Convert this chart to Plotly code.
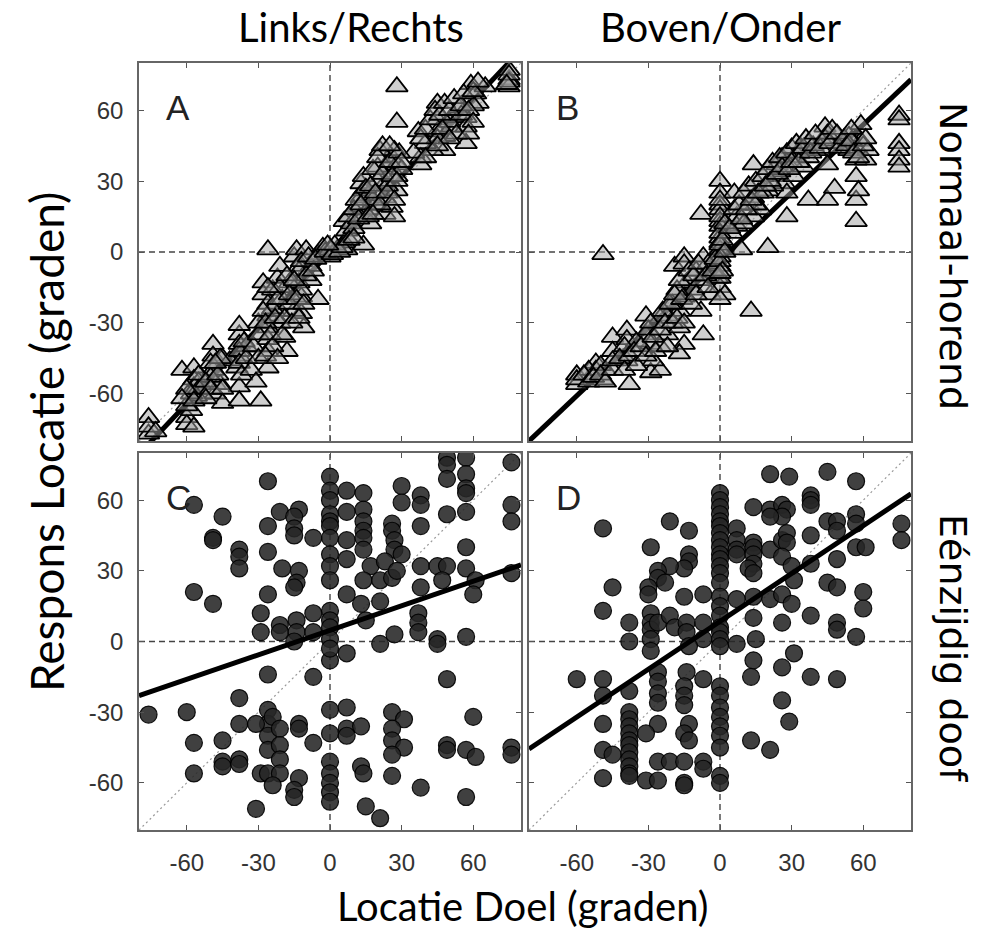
import plotly.graph_objects as go

# ---------------------------------------------------------------------------
# Data (degrees): target location vs. response location
# ---------------------------------------------------------------------------

# Panel A - normal hearing, left/right (azimuth)
a_x = [-76, -76, -60, -60, -57, -58, -62, -57, -57, -57, -54, -49, -49, -49, -48, -48, -45,
       -38, -38, -29, -38, -38, -38, -39, -46, -56,
       -26, -28, -28, -26, -26, -26, -26, -26, -26, -24, -22, -21, -21, -21, -19, -18, -15, -14,
       -13, -13, -12, -12, -11, -15, -17, -8, -8, -5, -10,
       -5, -3, 0, 0, 3, 7, 6, 14,
       6, 7, 9, 12, 13, 14, 14, 17, 16, 13, 19, 23, 23, 23, 24, 26, 27, 28, 28, 28, 26, 27, 21, 20,
       28, 28, 37, 38, 38, 45, 45, 45, 48, 48, 51, 51, 57, 57, 57, 59, 61, 62, 75, 75, 75, 54, 43, 40,
       -13, -12, -24, -20, -17, -10, 10, 16, 20, 24, 18, -30, -35, -45, -55, -50, -42,
       30, 35, 45, 50, 55, 60, 65,
       -60, -58, -55, -55, -52, -50, -50, -47, -46, -60, -62, -57, -52, -48, -45, -76, -73,
       -38, -38, -37, -36, -35, -33, -32, -30, -30, -31, -38,
       -28, -27, -25, -24, -23, -22, -21, -20, -19, -18, -17, -16, -15, -14, -13, -12, -11, -9, -7,
       -6, -27, -26, -22,
       -2, 1, 2, 4, 5, -1, 8, 10,
       8, 10, 11, 12, 13, 14, 15, 16, 17, 18, 19, 20, 21, 22, 22, 24, 25, 26, 27, 28, 29, 30, 18, 25,
       38, 40, 42, 44, 46, 47, 48, 50, 52, 53, 55, 56, 58, 60, 60, 62, 58, 50, 45, 40,
       75, 75, 74]
a_y = [-70, -77, -70, -73, -74, -67, -50, -49, -54, -57, -60, -39, -44, -50, -56, -60, -64,
       -57, -63, -63, -35, -39, -44, -49, -56, -61,
       1, -13, -18, -22, -27, -32, -37, -42, -49, -16, -11, -6, -25, -30, -36, -42, -2, 1,
       -6, -13, -19, -26, -32, -25, -13, -6, -12, -20, 1,
       -1, 2, 1, -2, 1, 1, 4, 3,
       13, 9, 12, 19, 23, 26, 15, 12, 18, 29, 20, 16, 23, 29, 36, 40, 43, 37, 32, 26, 19, 15, 43, 36,
       70, 55, 51, 40, 37, 63, 56, 51, 49, 43, 53, 57, 57, 53, 46, 71, 67, 63, 73, 70, 77, 61, 43, 46,
       -8, -16, -24, -20, -22, -10, 10, 24, 30, 28, 22, -30, -40, -45, -55, -53, -46,
       35, 42, 48, 55, 58, 62, 70,
       -65, -60, -58, -52, -55, -47, -58, -52, -45, -58, -62, -63, -62, -47, -58, -74, -76,
       -42, -47, -52, -38, -45, -50, -40, -45, -35, -55, -31,
       -25, -30, -35, -40, -28, -20, -15, -35, -28, -10, -18, -30, -12, -20, -28, -4, -22, -2, -8,
       -3, -44, -15, -45,
       0, -1, 3, 0, 2, 3, 5, 6,
       15, 18, 22, 14, 20, 32, 27, 15, 28, 35, 25, 40, 20, 33, 45, 25, 38, 32, 22, 30, 42, 38, 16, 45,
       48, 52, 56, 60, 58, 52, 63, 60, 65, 50, 62, 67, 60, 68, 55, 72, 50, 48, 45, 40,
       72, 75, 71]

# Panel B - normal hearing, up/down (elevation)
b_x = [-60, -60, -49, -48, -52, -52, -45, -39, -39, -39, -38, -29, -25, -31, -31, -29, -28, -25,
       -22, -22, -17, -17, -15, -14, -11, -8, -7, -15, -17, -19, -15, -15, -7, -8, -4, -1, 0, 2, 0,
       -49, 13, 20,
       0, 0, 0, 0, 0, 0, 0, 0, 0, 0, 0, 0,
       -8, 6, 7, 7, 9, 12, 14, 14, 14, 17, 20, 23, 24, 26, 27, 28, 28, 31, 31, 34, 35, 37, 37, 37,
       43, 44, 45, 45, 45, 48, 51, 54, 57, 57, 57, 57, 57, 59, 59, 58, 61, 62, 75, 75, 75, 75, 75, 75,
       54, 40,
       -35, -30, -25, -20, -18, -10, -5, 5, 10, 15, 18, 22, 25, 28, 30, 33, -45, -55, -50, -40,
       -60, -57, -55, -53, -50, -48, -45, -45, -42, -40, -38, -36, -35, -33, -31, -29, -28, -27,
       -25, -24, -23, -22, -21, -20, -19, -18, -17, -16, -15, -13, -12, -11, -10, -9, -6, -5, -3, -2,
       0, 0, 0, 1, 1, 2, 0, 0, 0, 2,
       4, 6, 8, 9, 10, 11, 12, 13, 15, 16, 18, 19, 20, 21, 22, 24, 25, 26, 28, 29, 30, 32, 33, 35,
       36, 38, 39, 40, 42, 44, 46, 47, 49, 50, 52, 53, 55, 56, 58, 60, 61, 55]
b_y = [-52, -56, -54, -50, -47, -50, -36, -33, -37, -46, -56, -51, -50, -27, -35, -39, -46, -40,
       -35, -27, -25, -32, -19, -13, -16, -25, -35, -39, -43, -6, -2, -5, -2, -12, -18, -11, -15, -18, -20,
       -1, -25, 2,
       30, 25, 20, 18, 13, 11, 6, 4, 1, -2, -6, -11,
       16, 25, 15, 11, 1, 20, 23, 37, 15, 18, 26, 32, 37, 40, 29, 25, 15, 32, 40, 44, 36, 46, 40, 22,
       47, 53, 50, 37, 22, 27, 46, 43, 44, 39, 32, 22, 13, 54, 47, 26, 39, 43, 58, 56, 46, 43, 39, 36,
       49, 43,
       -38, -33, -28, -22, -16, -8, -5, 8, 12, 20, 25, 28, 34, 38, 44, 42, -42, -50, -48, -40,
       -54, -52, -55, -53, -52, -55, -50, -46, -45, -50, -44, -42, -48, -40, -44, -30, -36, -42,
       -33, -25, -30, -40, -22, -30, -18, -28, -12, -20, -30, -8, -22, -10, -18, -5, -10, -15, -8, -3,
       -4, 3, 8, -8, 5, 0, 15, 22, -9, 12,
       10, 18, 20, 14, 25, 18, 28, 22, 30, 25, 32, 28, 35, 30, 38, 33, 40, 36, 42, 35, 38, 46, 38, 44,
       48, 42, 45, 50, 44, 48, 46, 52, 50, 44, 48, 45, 47, 42, 40, 45, 48, 52]

# Panel C - single-sided deaf, left/right
c_x = [-26,
       0, 0, 0, 0, 0, 0, 0, 0, 0, 0, 0, 0, 0, 0, 0, 0, 0, 0, 0, 0, 0, 0, 0,
       7, 14, -57, -45, -49, -49,
       -21, -13, -15, -15, -15, -26, -7,
       7, 14, 14, 14,
       30, 30, 38, 38, 38,
       49, 49, 49, 57, 57, 57, 57, 57, 49, 76, 76, 76,
       -38, -38, -38, -26, -20, -13, -14, -15,
       7, 7, 14, 14, 17, 14, 21, 26, 26, 27, 27, 23, 26, 28, 30,
       38, 38, 45, 49, 47, 57, 57, 61, 60, 76,
       -57, -49, -26, -29, -29,
       -21, -21, -14, -14, -15, -7, -7,
       7, 13, 15, 21, 21, 27, 37, 37, 37, 45, 45, 57,
       7,
       -26, -7, 49,
       -76, -60, -38, -38, -57, -45, -45, -45, -38, -38, -57,
       -26, -26, -26, -26, -24, -21, -21, -21, -31, -29, -26, -21, -24, -31, -13, -13, -13, -15, -15, -7,
       7, 7, 13, 7, 13, 14, 15, 21,
       26, 31, 26, 26, 31, 26, 26, 38,
       49, 49, 57, 61, 60, 57, 76, 76]
c_y = [68,
       70, 64, 60, 54, 51, 49, 44, 37, 32, 26, 13, 9, 6, 1, -8, -29, -39, -51, -56, -60, -64, -68, -3,
       64, 63, 58, 53, 44, 43,
       55, 56, 53, 48, 45, 49, 44,
       55, 56, 51, 47,
       66, 59, 62, 58, 49,
       78, 75, 69, 78, 71, 65, 63, 55, 54, 76, 58, 51,
       39, 36, 31, 38, 31, 30, 25, 23,
       43, 35, 44, 39, 32, 26, 26, 50, 47, 43, 39, 34, 27, 30, 37,
       32, 23, 32, 32, 26, 40, 31, 26, 20, 29,
       21, 16, 20, 12, 4,
       7, 4, 9, 4, 0, 12, 4,
       20, 16, 9, 17, -1, 3, 12, 8, 4, 1, -1, 2,
       -5,
       -14, -15, -16,
       -31, -30, -24, -35, -43, -42, -51, -53, -50, -52, -56,
       -29, -35, -40, -46, -32, -37, -44, -50, -35, -56, -56, -56, -61, -71, -35, -37, -58, -63, -66, -43,
       -28, -37, -36, -40, -53, -56, -70, -75,
       -30, -33, -37, -42, -45, -48, -57, -62,
       -44, -46, -46, -49, -32, -66, -45, -48]

# Panel D - single-sided deaf, up/down
d_x = [21, 29, 45, 57,
       0, 0, 0, 0, 0, 0, 0, 0, 0, 0, 0, 0, 0, 0, 0, 0, 0, 0, 0, 0, 0, 0, 0, 0, 0, 0,
       38, 38, 38,
       14, 21, 26, 28, 26, 21,
       -49, -21, -13, -29, -13, -13, -15, -21, -26, -26, -30, -30, -23, -15, -7,
       7, 7, 7, 7, 14, 14, 14, 14, 12, 14, 21, 26, 28, 28, 26, 30, 31, 21, 26, 30, 14, 7,
       38, 45, 49, 49, 57, 57, 57, 61, 49, 38, 45, 49, 60, 60, 76, 76,
       -45, -49, -38, -38, -29, -29, -29, -29, -29, -26, -21, -19, -14, -14, -7, -7, -13,
       14, 26, 38, 49, 49, 57,
       7, 15, 31, 14, 26, 13, 38, 49,
       -60, -49, -49, -38, -49, -49, -45, -49,
       -38, -38, -38, -38, -38, -38, -38, -38, -38, -38, -38,
       -26, -26, -26, -26, -26, -31, -26, -21, -31, -26, -14, -15, -15, -15, -13, -15, -13, -15, -7, -7,
       -15, -15, -7,
       13, 21, 26, 29,
       0, 0, 0, 0]
d_y = [71, 70, 72, 68,
       63, 60, 57, 54, 51, 49, 46, 43, 40, 37, 35, 32, 29, 25, 19, 15, 11, 6, 4, 1, -2, -19, -23, -28,
       -32, -36,
       62, 60, 58,
       57, 56, 58, 56, 53, 53,
       48, 51, 47, 40, 37, 34, 31, 32, 30, 27, 23, 20, 25, 19, 20,
       48, 43, 39, 37, 42, 40, 37, 33, 31, 29, 39, 43, 46, 42, 36, 32, 26, 18, 20, 16, 19, 18,
       45, 51, 51, 47, 54, 50, 40, 40, 35, 33, 25, 23, 21, 14, 50, 43,
       23, 13, 8, 0, 12, 8, 5, 1, -4, 8, 11, 6, 8, 4, 8, 1, -2,
       10, 8, 11, 8, 5, 2,
       -1, 1, -5, -8, -11, -15, -15, -16,
       -16, -16, -23, -21, -35, -46, -48, -58,
       -30, -33, -36, -39, -42, -44, -47, -50, -53, -56, -57,
       -13, -17, -22, -26, -35, -39, -51, -51, -59, -59, -13, -19, -23, -27, -35, -39, -42, -51, -51, -54,
       -60, -61, -16,
       -42, -46, -25, -34,
       -40, -45, -57, -60]

# Regression lines (end points at the axis limits)
fit_x = [-80, 80]
fit_a = [-85.6, 85.6]
fit_b = [-80.0, 73.0]
fit_c = [-23.0, 32.5]
fit_d = [-45.6, 62.7]
unity = [-80, 80]

tick_vals = [-60, -30, 0, 30, 60]
tick_text = ["-60", "-30", "0", "30", "60"]
axis_range = [-80, 80]

col_titles = ["Links/Rechts", "Boven/Onder"]
row_titles = ["Normaal-horend", "Eénzijdig doof"]
x_title = "Locatie Doel (graden)"
y_title = "Respons Locatie (graden)"
panel_letters = ["A", "B", "C", "D"]

# ---------------------------------------------------------------------------
# Figure
# ---------------------------------------------------------------------------
W, H = 989, 944
fig = go.Figure()

# panel -> (xaxis id, yaxis id)
panels = [("x", "y"), ("x2", "y2"), ("x3", "y3"), ("x4", "y4")]

tri_style = dict(symbol="triangle-up", size=19, color="rgba(160,160,160,0.5)",
                 line=dict(color="black", width=1.8))
dot_style = dict(symbol="circle", size=17, color="rgba(38,38,38,0.88)",
                 line=dict(color="rgba(0,0,0,0.9)", width=1.2))


def add_unity(xa, ya):
    fig.add_trace(go.Scatter(x=unity, y=unity, mode="lines", xaxis=xa, yaxis=ya,
                             line=dict(color="#9a9a9a", width=1.2, dash="2px,3px"),
                             hoverinfo="skip", showlegend=False))


def add_fit(xa, ya, yy):
    fig.add_trace(go.Scatter(x=fit_x, y=yy, mode="lines", xaxis=xa, yaxis=ya,
                             line=dict(color="black", width=5),
                             hoverinfo="skip", showlegend=False))


def add_points(xa, ya, xs, ys, style):
    fig.add_trace(go.Scatter(x=xs, y=ys, mode="markers", xaxis=xa, yaxis=ya,
                             marker=style, showlegend=False))


# A
add_unity("x", "y")
add_fit("x", "y", fit_a)
add_points("x", "y", a_x, a_y, tri_style)
# B
add_unity("x2", "y2")
add_fit("x2", "y2", fit_b)
add_points("x2", "y2", b_x, b_y, tri_style)
# C
add_unity("x3", "y3")
add_points("x3", "y3", c_x, c_y, dot_style)
add_fit("x3", "y3", fit_c)
# D
add_unity("x4", "y4")
add_points("x4", "y4", d_x, d_y, dot_style)
add_fit("x4", "y4", fit_d)

# dashed zero lines
for xa, ya in panels:
    fig.add_shape(type="line", xref=xa, yref=ya + " domain", x0=0, x1=0, y0=0, y1=1,
                  line=dict(color="#444", width=1.4, dash="6px,4px"), layer="below")
    fig.add_shape(type="line", xref=xa + " domain", yref=ya, x0=0, x1=1, y0=0, y1=0,
                  line=dict(color="#444", width=1.4, dash="6px,4px"), layer="below")

# axis layout
col_dom = [[139 / W, 521 / W], [529 / W, 911 / W]]
row_dom = [[1 - 441 / H, 1 - 63 / H], [1 - 830 / H, 1 - 453 / H]]
tick_font = dict(family="Liberation Sans Narrow, Liberation Sans, Arial", size=24, color="#333")

layout_axes = {}
for i, (xa, ya) in enumerate(panels):
    r, c = divmod(i, 2)
    common = dict(range=axis_range, tickvals=tick_vals, ticktext=tick_text,
                  ticks="inside", ticklen=5, tickwidth=1.2, tickcolor="#555",
                  showline=True, linecolor="#666", linewidth=1.5, mirror="ticks",
                  showgrid=False, zeroline=False, tickfont=tick_font, fixedrange=True)
    xname = "xaxis" if xa == "x" else "xaxis" + xa[1:]
    yname = "yaxis" if ya == "y" else "yaxis" + ya[1:]
    layout_axes[xname] = dict(common, domain=col_dom[c], anchor=ya,
                              showticklabels=(r == 1), ticklabelstandoff=10)
    layout_axes[yname] = dict(common, domain=row_dom[r], anchor=xa,
                              showticklabels=(c == 0), ticklabelstandoff=9)

fig.update_layout(**layout_axes)

annotations = []
# panel letters
for (xa, ya), letter in zip(panels, panel_letters):
    annotations.append(dict(text=letter, xref=xa + " domain", yref=ya + " domain",
                            x=0.065, y=0.94, xanchor="left", yanchor="top", showarrow=False,
                            font=dict(family="Liberation Sans, Arial", size=35, color="#222")))

title_font = dict(family="Lato", size=40, color="black")
# column titles
annotations.append(dict(text=col_titles[0], xref="paper", yref="paper", x=351 / W, y=1 - 27 / H,
                        xanchor="center", yanchor="middle", showarrow=False, font=title_font))
annotations.append(dict(text=col_titles[1], xref="paper", yref="paper", x=720 / W, y=1 - 27 / H,
                        xanchor="center", yanchor="middle", showarrow=False, font=title_font))
# row titles (right side)
row_font = dict(family="DejaVu Sans", size=38, color="black")
annotations.append(dict(text=row_titles[0], xref="paper", yref="paper", x=953 / W, y=1 - 256 / H,
                        xanchor="center", yanchor="middle", textangle=90, showarrow=False,
                        font=row_font))
annotations.append(dict(text=row_titles[1], xref="paper", yref="paper", x=953 / W, y=1 - 648 / H,
                        xanchor="center", yanchor="middle", textangle=90, showarrow=False,
                        font=row_font))
# axis titles
annotations.append(dict(text=x_title, xref="paper", yref="paper", x=523 / W, y=1 - 906 / H,
                        xanchor="center", yanchor="middle", showarrow=False, font=title_font))
annotations.append(dict(text=y_title, xref="paper", yref="paper", x=46 / W, y=1 - 442 / H,
                        xanchor="center", yanchor="middle", textangle=-90, showarrow=False,
                        font=dict(family="Lato", size=46, color="black")))

fig.update_layout(width=W, height=H, margin=dict(l=0, r=0, t=0, b=0),
                  paper_bgcolor="white", plot_bgcolor="white",
                  annotations=annotations, showlegend=False)

fig.write_html("out.html")
